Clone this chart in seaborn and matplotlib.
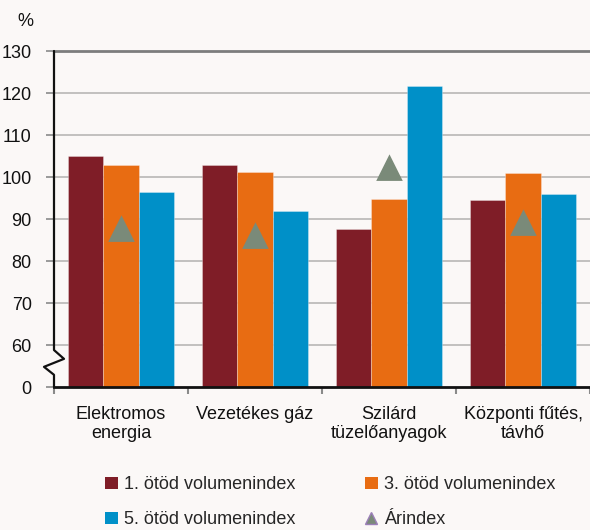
import numpy as np
import pandas as pd
import matplotlib
matplotlib.use("Agg")
import matplotlib.pyplot as plt
import seaborn as sns
from matplotlib.patches import Patch
from matplotlib.lines import Line2D
import matplotlib.transforms as mtransforms

categories = ["Elektromos\nenergia", "Vezetékes gáz", "Szilárd\ntüzelőanyagok", "Központi fűtés,\ntávhő"]
series_names = ["1. ötöd volumenindex", "3. ötöd volumenindex", "5. ötöd volumenindex"]
q1 = [105.0, 102.9, 87.6, 94.6]
q3 = [102.9, 101.3, 94.8, 100.9]
q5 = [96.4, 92.0, 121.7, 96.0]
price_index = [87.7, 86.0, 102.2, 89.0]
price_name = "Árindex"
ytick_values = [50, 60, 70, 80, 90, 100, 110, 120, 130]
ytick_labels = ["0", "60", "70", "80", "90", "100", "110", "120", "130"]

colors = ["#7f1d27", "#e86c12", "#0090c8"]
tri_color = "#7a8a79"
bg = "#fbf8f7"

sns.set_theme(style="white")
plt.rcParams["font.family"] = ["Liberation Sans", "DejaVu Sans"]

df = pd.DataFrame({
    "cat": categories * 3,
    "series": sum([[s] * 4 for s in series_names], []),
    "value": q1 + q3 + q5,
})

fig = plt.figure(figsize=(5.9, 5.3), dpi=100, facecolor=bg)
ax = fig.add_axes([54 / 590, 1 - 387 / 530, 1 - 54 / 590, (387 - 51) / 530])
ax.set_facecolor(bg)

sns.barplot(data=df, x="cat", y="value", hue="series", palette=colors,
            width=0.79, ax=ax, legend=False, saturation=1, linewidth=0.6,
            edgecolor=(1, 1, 1, 0.35))

tri_df = pd.DataFrame({"cat": categories, "value": price_index})
sns.pointplot(data=tri_df, x="cat", y="value", linestyle="none", markers="^",
              color=tri_color, markersize=16, ax=ax, zorder=5)

ax.set_ylim(50, 130)
ax.set_xlim(-0.5, 3.49)
ax.set_yticks(ytick_values)
ax.set_yticklabels(ytick_labels)
ax.set_xlabel("")
ax.set_ylabel("")

for v in ytick_values[1:-1]:
    ax.axhline(v, color="#b3b1b0", lw=1.1, zorder=0)

ax.set_xticks([i + 0.5 for i in range(-1, 4)], minor=True)
ax.tick_params(axis="x", which="major", length=0, pad=14, labelsize=13, colors="#111111")
ax.tick_params(axis="x", which="minor", length=5, width=1.5, color="#8a8a8a", direction="out", bottom=True)
ax.tick_params(axis="y", length=6, width=1.2, color="#8a8a8a", direction="out", left=True,
               pad=10, labelsize=13, labelcolor="#111111")
for lab in ax.get_xticklabels():
    lab.set_linespacing(1.15)

ax.spines["right"].set_visible(False)
ax.spines["left"].set_visible(False)
ax.spines["top"].set_color("#7d7d7d")
ax.spines["top"].set_linewidth(2)
ax.spines["bottom"].set_color("#111111")
ax.spines["bottom"].set_linewidth(2)

# axis break on the left spine
trans = mtransforms.blended_transform_factory(ax.transAxes, ax.transData)
dx = 10 / 536
brk = Line2D([0, 0, dx, -dx, 0, 0], [130, 58.8, 56.7, 54.8, 52.9, 50],
             transform=trans, color="#111111", lw=1.6, clip_on=False, zorder=6)
ax.add_line(brk)

fig.text(25 / 590, 1 - 22 / 530, "%", ha="center", va="center", fontsize=13, color="#111111")

handles = [Patch(facecolor=c, edgecolor="none") for c in colors]
handles = [handles[0], handles[2], handles[1],
           Line2D([], [], marker="^", linestyle="none", markerfacecolor=tri_color,
                  markeredgecolor="#9b7fb8", markersize=9)]
labels = [series_names[0], series_names[2], series_names[1], price_name]
fig.legend(handles, labels, loc="upper left", bbox_to_anchor=(98 / 590, 1 - 469 / 530),
           ncol=2, frameon=False, fontsize=13, handlelength=0.7, handleheight=0.7,
           handletextpad=0.35, columnspacing=3.85, labelspacing=1.0, borderaxespad=0)

fig.savefig("out.png", dpi=100, facecolor=bg)
